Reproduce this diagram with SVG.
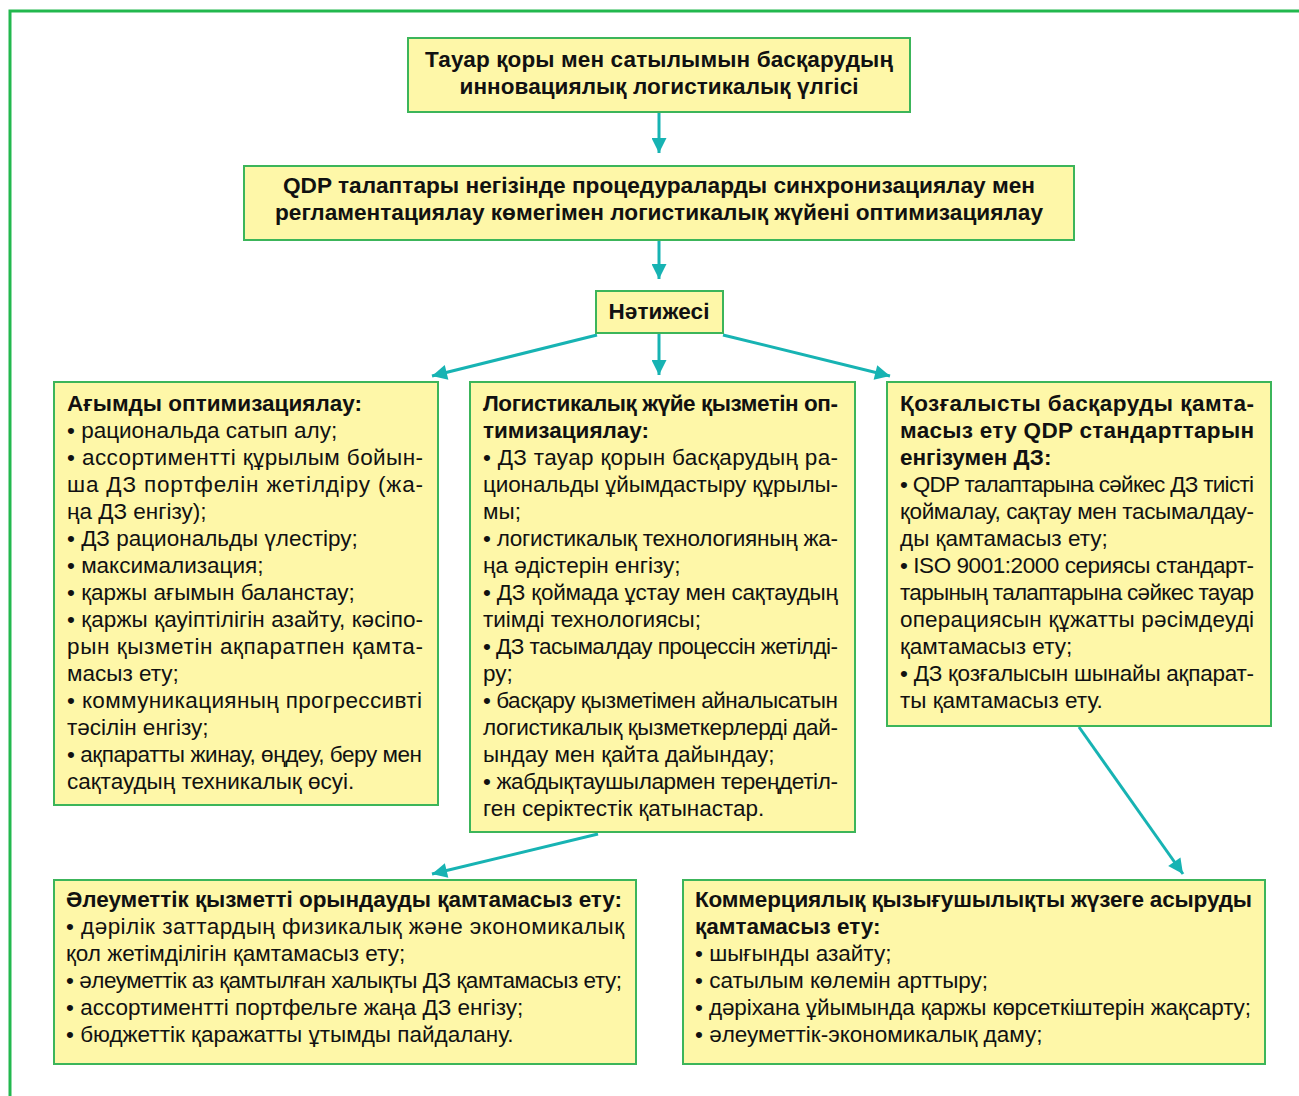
<svg xmlns="http://www.w3.org/2000/svg" width="1299" height="1096" viewBox="0 0 1299 1096">
<defs>
<marker id="ah" viewBox="0 0 10 10" refX="10" refY="5" markerWidth="5.5" markerHeight="5" markerUnits="strokeWidth" orient="auto">
<path d="M0,0 L10,5 L0,10 Z" fill="#17b3b3"/>
</marker>
</defs>
<style>
.box{fill:#fef7a8;stroke:#3cb55a;stroke-width:2}
.t{font-family:"Liberation Sans",Arial,sans-serif;font-size:22.5px;fill:#111}
.b{font-weight:bold}
.c{text-anchor:middle}
.con{stroke:#17b3b3;stroke-width:3;fill:none;marker-end:url(#ah)}
</style>
<rect width="1299" height="1096" fill="#ffffff"/>
<path d="M10,1096 V11 H1299" fill="none" stroke="#22b84e" stroke-width="3"/>

<g id="connectors">
<line class="con" x1="659" y1="112" x2="659" y2="153"/>
<line class="con" x1="659" y1="240" x2="659" y2="279"/>
<line class="con" x1="597" y1="335" x2="432" y2="376"/>
<line class="con" x1="659" y1="333" x2="659" y2="375"/>
<line class="con" x1="723" y1="335" x2="890" y2="376"/>
<line class="con" x1="598" y1="834" x2="432" y2="874"/>
<line class="con" x1="1079" y1="727" x2="1183" y2="874"/>
</g>

<g id="n-top">
<rect class="box" x="408" y="38" width="502" height="74"/>
<text class="t b c" x="659" y="67" textLength="468">Тауар қоры мен сатылымын басқарудың</text>
<text class="t b c" x="659" y="94" textLength="399">инновациялық логистикалық үлгісі</text>
</g>

<g id="n-qdp">
<rect class="box" x="244" y="166" width="830" height="74"/>
<text class="t b c" x="659" y="193" textLength="752" lengthAdjust="spacingAndGlyphs">QDP талаптары негізінде процедураларды синхронизациялау мен</text>
<text class="t b c" x="659" y="220" textLength="768" lengthAdjust="spacingAndGlyphs">регламентациялау көмегімен логистикалық жүйені оптимизациялау</text>
</g>

<g id="n-result">
<rect class="box" x="596" y="291" width="127" height="42"/>
<text class="t b c" x="659" y="319" textLength="101">Нәтижесі</text>
</g>

<g id="n-left">
<rect class="box" x="54" y="382" width="384" height="423"/>
<text class="t b" x="67" y="411" textLength="295">Ағымды оптимизациялау:</text>
<text class="t" x="67" y="438">• рациональда сатып алу;</text>
<text class="t" x="67" y="465" textLength="356">• ассортиментті құрылым бойын-</text>
<text class="t" x="67" y="492" textLength="356">ша ДЗ портфелін жетілдіру (жа-</text>
<text class="t" x="67" y="519">ңа ДЗ енгізу);</text>
<text class="t" x="67" y="546">• ДЗ рациональды үлестіру;</text>
<text class="t" x="67" y="573">• максимализация;</text>
<text class="t" x="67" y="600">• қаржы ағымын баланстау;</text>
<text class="t" x="67" y="627" textLength="356">• қаржы қауіптілігін азайту, кәсіпо-</text>
<text class="t" x="67" y="654" textLength="356">рын қызметін ақпаратпен қамта-</text>
<text class="t" x="67" y="681">масыз ету;</text>
<text class="t" x="67" y="708" textLength="355">• коммуникацияның прогрессивті</text>
<text class="t" x="67" y="735">тәсілін енгізу;</text>
<text class="t" x="67" y="762" textLength="355">• ақпаратты жинау, өңдеу, беру мен</text>
<text class="t" x="67" y="789">сақтаудың техникалық өсуі.</text>
</g>

<g id="n-mid">
<rect class="box" x="470" y="382" width="385" height="450"/>
<text class="t b" x="483" y="411" textLength="355">Логистикалық жүйе қызметін оп-</text>
<text class="t b" x="483" y="438">тимизациялау:</text>
<text class="t" x="483" y="465" textLength="355">• ДЗ тауар қорын басқарудың ра-</text>
<text class="t" x="483" y="492" textLength="355">циональды ұйымдастыру құрылы-</text>
<text class="t" x="483" y="519">мы;</text>
<text class="t" x="483" y="546" textLength="355">• логистикалық технологияның жа-</text>
<text class="t" x="483" y="573">ңа әдістерін енгізу;</text>
<text class="t" x="483" y="600" textLength="355">• ДЗ қоймада ұстау мен сақтаудың</text>
<text class="t" x="483" y="627">тиімді технологиясы;</text>
<text class="t" x="483" y="654" textLength="355">• ДЗ тасымалдау процессін жетілді-</text>
<text class="t" x="483" y="681">ру;</text>
<text class="t" x="483" y="708" textLength="355">• басқару қызметімен айналысатын</text>
<text class="t" x="483" y="735" textLength="355">логистикалық қызметкерлерді дай-</text>
<text class="t" x="483" y="762">ындау мен қайта дайындау;</text>
<text class="t" x="483" y="789" textLength="355">• жабдықтаушылармен тереңдетіл-</text>
<text class="t" x="483" y="816">ген серіктестік қатынастар.</text>
</g>

<g id="n-right">
<rect class="box" x="887" y="382" width="384" height="344"/>
<text class="t b" x="900" y="411" textLength="354">Қозғалысты басқаруды қамта-</text>
<text class="t b" x="900" y="438" textLength="354">масыз ету QDP стандарттарын</text>
<text class="t b" x="900" y="465">енгізумен ДЗ:</text>
<text class="t" x="900" y="492" textLength="354">• QDP талаптарына сәйкес ДЗ тиісті</text>
<text class="t" x="900" y="519" textLength="354">қоймалау, сақтау мен тасымалдау-</text>
<text class="t" x="900" y="546">ды қамтамасыз ету;</text>
<text class="t" x="900" y="573" textLength="354">• ISO 9001:2000 сериясы стандарт-</text>
<text class="t" x="900" y="600" textLength="354">тарының талаптарына сәйкес тауар</text>
<text class="t" x="900" y="627" textLength="354">операциясын құжатты рәсімдеуді</text>
<text class="t" x="900" y="654">қамтамасыз ету;</text>
<text class="t" x="900" y="681" textLength="354">• ДЗ қозғалысын шынайы ақпарат-</text>
<text class="t" x="900" y="708">ты қамтамасыз ету.</text>
</g>

<g id="n-social">
<rect class="box" x="54" y="880" width="582" height="184"/>
<text class="t b" x="66" y="907" textLength="556">Әлеуметтік қызметті орындауды қамтамасыз ету:</text>
<text class="t" x="66" y="934" textLength="558">• дәрілік заттардың физикалық және экономикалық</text>
<text class="t" x="66" y="961">қол жетімділігін қамтамасыз ету;</text>
<text class="t" x="66" y="988" textLength="556">• әлеуметтік аз қамтылған халықты ДЗ қамтамасыз ету;</text>
<text class="t" x="66" y="1015">• ассортиментті портфельге жаңа ДЗ енгізу;</text>
<text class="t" x="66" y="1042">• бюджеттік қаражатты ұтымды пайдалану.</text>
</g>

<g id="n-commercial">
<rect class="box" x="683" y="880" width="582" height="184"/>
<text class="t b" x="695" y="907" textLength="557">Коммерциялық қызығушылықты жүзеге асыруды</text>
<text class="t b" x="695" y="934">қамтамасыз ету:</text>
<text class="t" x="695" y="961">• шығынды азайту;</text>
<text class="t" x="695" y="988">• сатылым көлемін арттыру;</text>
<text class="t" x="695" y="1015" textLength="556">• дәріхана ұйымында қаржы көрсеткіштерін жақсарту;</text>
<text class="t" x="695" y="1042">• әлеуметтік-экономикалық даму;</text>
</g>
</svg>
